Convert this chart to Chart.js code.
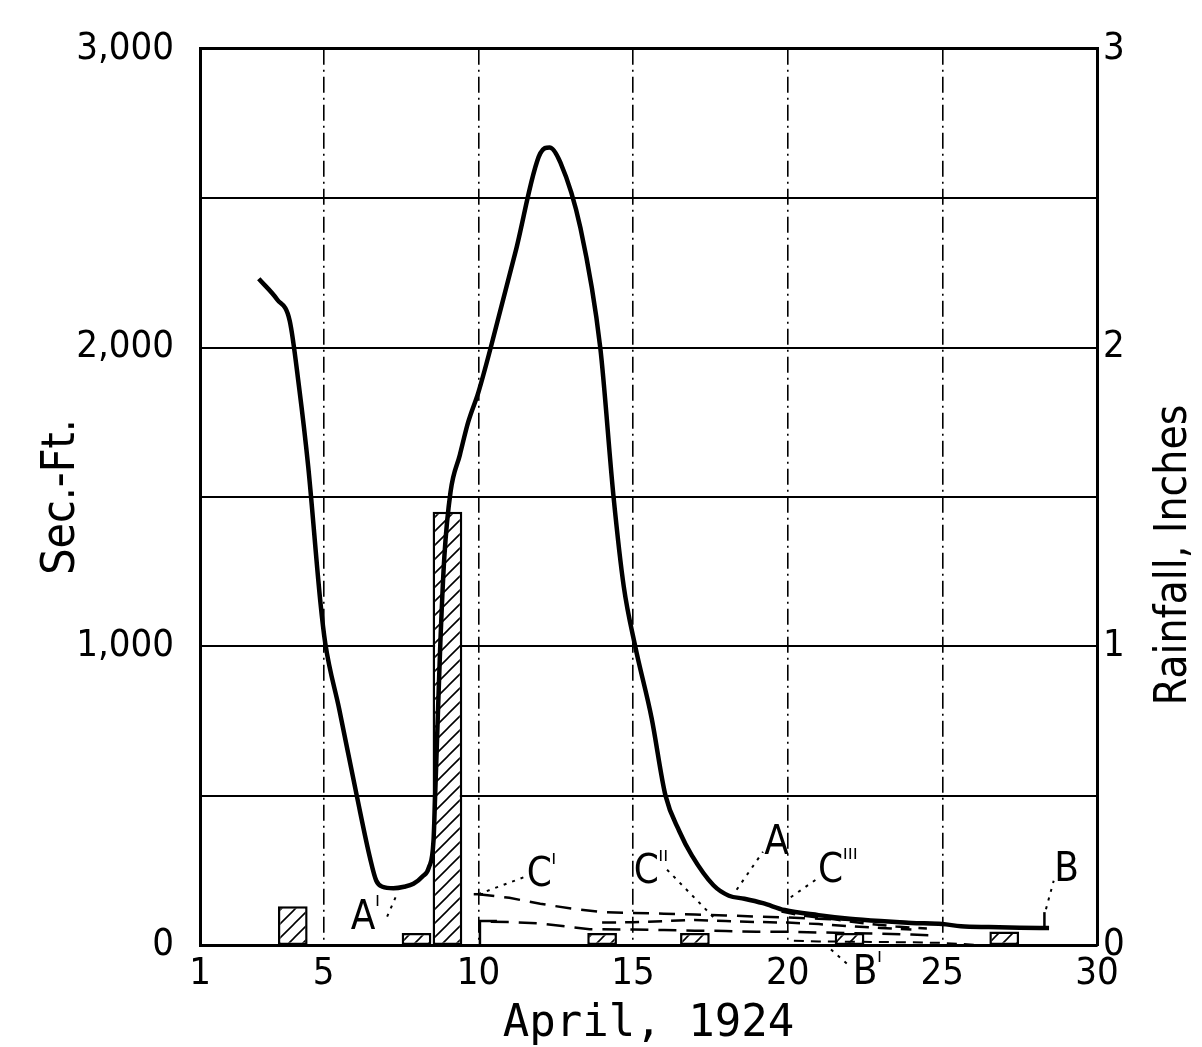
<!DOCTYPE html>
<html>
<head>
<meta charset="utf-8">
<script src="https://cdn.jsdelivr.net/npm/chart.js@4/dist/chart.umd.min.js"></script>
<style>
  html, body { margin: 0; padding: 0; background: #fff; }
  #wrap { width: 1202px; height: 1047px; }
</style>
</head>
<body>
<div id="wrap"><canvas id="c"></canvas></div>
<script>
// ---------- data ----------
const xTickValues = [1, 5, 10, 15, 20, 25, 30];
const flowTickLabels = { 0: '0', 1000: '1,000', 2000: '2,000', 3000: '3,000' };

// Discharge hydrograph (April day, sec.-ft.)
const flowDays = [2.9, 3.5, 3.9, 4.2, 4.5, 4.89, 5.05, 5.5, 6.08, 6.5, 6.7, 6.9, 7.25, 7.6, 7.9, 8.2, 8.4, 8.55, 8.6, 8.7, 8.77, 8.9, 9.1, 9.4, 9.67, 10.0, 10.4, 11.2, 12.0, 12.3, 12.65, 13.3, 13.94, 14.37, 14.7, 15.07, 15.6, 16.05, 16.5, 16.9, 17.6, 18.1, 18.6, 19.2, 19.9, 21.0, 22.0, 23.0, 24.0, 25.0, 25.6, 26.5, 27.5, 28.45];
const flowValues = [2230, 2160, 2090, 1870, 1600, 1150, 1010, 790, 494, 290, 215, 195, 190, 195, 205, 230, 260, 350, 493, 800, 1010, 1300, 1517, 1640, 1750, 1850, 2000, 2320, 2650, 2670, 2620, 2400, 2000, 1500, 1200, 1000, 760, 500, 380, 300, 200, 165, 155, 140, 117, 100, 88, 80, 74, 70, 63, 60, 58, 57];

// Daily rainfall (inches)
const rainDays = [4, 8, 9, 14, 17, 22, 27];
const rainInches = [0.13, 0.04, 1.45, 0.04, 0.04, 0.04, 0.045];

// Recession / separation curves (sec.-ft.)
const curveC1Days = [10.0, 11.0, 12.0, 13.0, 14.0, 15.0, 16.0, 17.0, 18.0, 19.0, 20.0, 21.0, 22.0, 23.0, 24.0, 25.0];
const curveC1Values = [170, 158, 138, 122, 110, 107, 105, 102, 99, 95, 92, 88, 84, 80, 76, 72];
const curveC2Days = [14.0, 15.0, 16.0, 17.0, 18.0, 19.0, 20.0, 21.0, 22.0, 23.0, 24.0];
const curveC2Values = [75, 76, 80, 84, 80, 77, 75, 70, 63, 57, 52];
const curveC3Days = [19.8, 20.5, 21.5, 22.5, 23.5, 24.5];
const curveC3Values = [112, 98, 86, 72, 62, 55];
const curveLowDays = [10.4, 11.0, 12.0, 13.0, 13.6, 15.0, 16.0, 17.0, 18.0, 19.0, 20.0, 21.0, 22.0, 23.0, 24.0, 24.8];
const curveLowValues = [78, 77, 72, 60, 53, 52, 50, 48, 47, 44, 44, 42, 40, 38, 35, 32];
const curveBDays = [20.2, 21.0, 22.0, 23.0, 24.0, 25.0, 26.2];
const curveBValues = [14, 12, 11, 10, 9, 7, 0];
const stepDays = [10.05, 10.05, 10.6];
const stepValues = [0, 80, 80];
const endTickDays = [28.3, 28.3];
const endTickValues = [60, 110];
const crossDays = [9.85, 10.15];
const crossValues = [170, 170];

// Leader (pointer) lines from labels
const leaderLines = [
  { days: [10.0, 11.5], values: [170, 228] },   // C'
  { days: [16.1, 17.6], values: [252, 93] },    // C''
  { days: [18.35, 19.2], values: [185, 312] },  // A
  { days: [20.1, 21.0], values: [160, 225] },   // C'''
  { days: [28.35, 28.6], values: [120, 215] },  // B
  { days: [21.4, 22.0], values: [-15, -70] },   // B'
  { days: [7.05, 7.4], values: [95, 178] }      // A'
];

// Labels on the diagram
const noteTexts = ['A', 'C', 'C', 'A', 'C', 'B', 'B'];
const notePrimes = ["'", "'", "''", '', "'''", '', "'"];
const noteDays = [6.27, 11.97, 15.43, 19.64, 21.39, 29.02, 22.5];
const noteValues = [90, 233, 243, 340, 247, 250, -97];

// ---------- helpers ----------
const NARROW = "'Liberation Sans Narrow','DejaVu Sans Condensed','Liberation Sans',sans-serif";
const MONO = "'DejaVu Sans Mono','Liberation Mono',monospace";
const pts = (xs, ys) => xs.map((x, i) => ({ x: x, y: ys[i] }));

function hatch() {
  const s = 14;
  const pc = document.createElement('canvas');
  pc.width = s; pc.height = s;
  const g = pc.getContext('2d');
  g.fillStyle = '#fff'; g.fillRect(0, 0, s, s);
  g.strokeStyle = '#000'; g.lineWidth = 1.6;
  g.beginPath();
  g.moveTo(0, s); g.lineTo(s, 0);
  g.moveTo(-s / 2, s / 2); g.lineTo(s / 2, -s / 2);
  g.moveTo(s / 2, s * 1.5); g.lineTo(s * 1.5, s / 2);
  g.stroke();
  return g.createPattern(pc, 'repeat');
}

const datasets = [
  {
    type: 'line', label: 'Discharge', data: pts(flowDays, flowValues), yAxisID: 'y',
    borderColor: '#000', borderWidth: 4.5, pointRadius: 0, cubicInterpolationMode: 'monotone', order: 0
  },
  {
    type: 'bar', label: 'Rainfall', data: pts(rainDays, rainInches), yAxisID: 'y2',
    backgroundColor: hatch(), borderColor: '#000', borderWidth: 2.5, borderSkipped: false,
    barPercentage: 0.96, categoryPercentage: 1.0, order: 5
  }
];
function dashed(xs, ys, dash, width) {
  datasets.push({
    type: 'line', data: pts(xs, ys), yAxisID: 'y', borderColor: '#000', borderWidth: width || 2.5,
    borderDash: dash, pointRadius: 0, tension: 0, order: 2, clip: false
  });
}
dashed(curveC1Days, curveC1Values, [16, 10]);
dashed(curveC2Days, curveC2Values, [14, 9]);
dashed(curveC3Days, curveC3Values, [14, 9]);
dashed(curveLowDays, curveLowValues, [18, 10]);
dashed(curveBDays, curveBValues, [10, 7], 2);
dashed(stepDays, stepValues, [], 2.5);
dashed(endTickDays, endTickValues, [], 2.5);
dashed(crossDays, crossValues, [], 2.5);
leaderLines.forEach(l => dashed(l.days, l.values, [3, 6], 2));

const labelPlugin = {
  id: 'labels',
  afterDatasetsDraw(chart) {
    const { ctx, scales } = chart;
    ctx.save();
    ctx.fillStyle = '#000';
    ctx.textAlign = 'center';
    ctx.textBaseline = 'middle';
    noteTexts.forEach((t, i) => {
      const px = scales.x.getPixelForValue(noteDays[i]);
      const py = scales.y.getPixelForValue(noteValues[i]);
      ctx.font = '40px ' + NARROW;
      ctx.fillText(t, px, py);
      if (notePrimes[i]) {
        ctx.font = '20px ' + NARROW;
        ctx.textAlign = 'left';
        ctx.fillText(notePrimes[i].replace(/'/g, 'ı'), px + 12, py - 17);
        ctx.textAlign = 'center';
      }
    });
    // right axis title, reading bottom-to-top
    ctx.translate(1175, 555);
    ctx.rotate(-Math.PI / 2);
    ctx.font = '44px ' + NARROW;
    ctx.fillText('Rainfall, Inches', 0, 0);
    ctx.restore();
  }
};

new Chart(document.getElementById('c'), {
  type: 'bar',
  data: { datasets: datasets },
  plugins: [labelPlugin],
  options: {
    responsive: true, maintainAspectRatio: false, animation: false, devicePixelRatio: 1,
    layout: { padding: { top: 35, left: 0, right: 0, bottom: 0 } },
    plugins: { legend: { display: false }, tooltip: { enabled: false } },
    scales: {
      x: {
        type: 'linear', min: 1, max: 30, offset: false,
        afterBuildTicks: s => { s.ticks = xTickValues.map(v => ({ value: v })); },
        afterFit: s => { s.height = 102; },
        ticks: { color: '#000', font: { family: NARROW, size: 38 }, padding: 6, maxRotation: 0, autoSkip: false },
        grid: {
          offset: false, drawTicks: false, lineWidth: 1.6,
          color: c => (c.tick && (c.tick.value === 1 || c.tick.value === 30)) ? 'rgba(0,0,0,0)' : '#000'
        },
        border: { display: true, color: '#000', width: 3, dash: [16, 5, 2, 5] },
        title: { display: true, text: 'April, 1924', color: '#000', font: { family: MONO, size: 44 }, padding: { top: 0, bottom: -4 } }
      },
      y: {
        type: 'linear', position: 'left', min: 0, max: 3000,
        afterBuildTicks: s => { s.ticks = [0, 500, 1000, 1500, 2000, 2500, 3000].map(v => ({ value: v })); },
        afterFit: s => { s.width = 200; },
        ticks: { color: '#000', font: { family: NARROW, size: 38 }, padding: 26, callback: v => flowTickLabels[v] !== undefined ? flowTickLabels[v] : '' },
        grid: { drawTicks: false, color: '#000', lineWidth: c => (c.tick && c.tick.value === 3000) ? 3 : 2 },
        border: { display: true, color: '#000', width: 3 },
        title: { display: true, text: 'Sec.-Ft.', color: '#000', font: { family: NARROW, size: 46 }, padding: { top: 34, bottom: 0 } }
      },
      y2: {
        type: 'linear', position: 'right', min: 0, max: 3,
        afterBuildTicks: s => { s.ticks = [0, 1, 2, 3].map(v => ({ value: v })); },
        afterFit: s => { s.width = 105; },
        ticks: { color: '#000', font: { family: NARROW, size: 38 }, padding: 6 },
        grid: { display: false, drawTicks: false },
        border: { display: true, color: '#000', width: 3 }
      }
    }
  }
});
</script>
</body>
</html>
